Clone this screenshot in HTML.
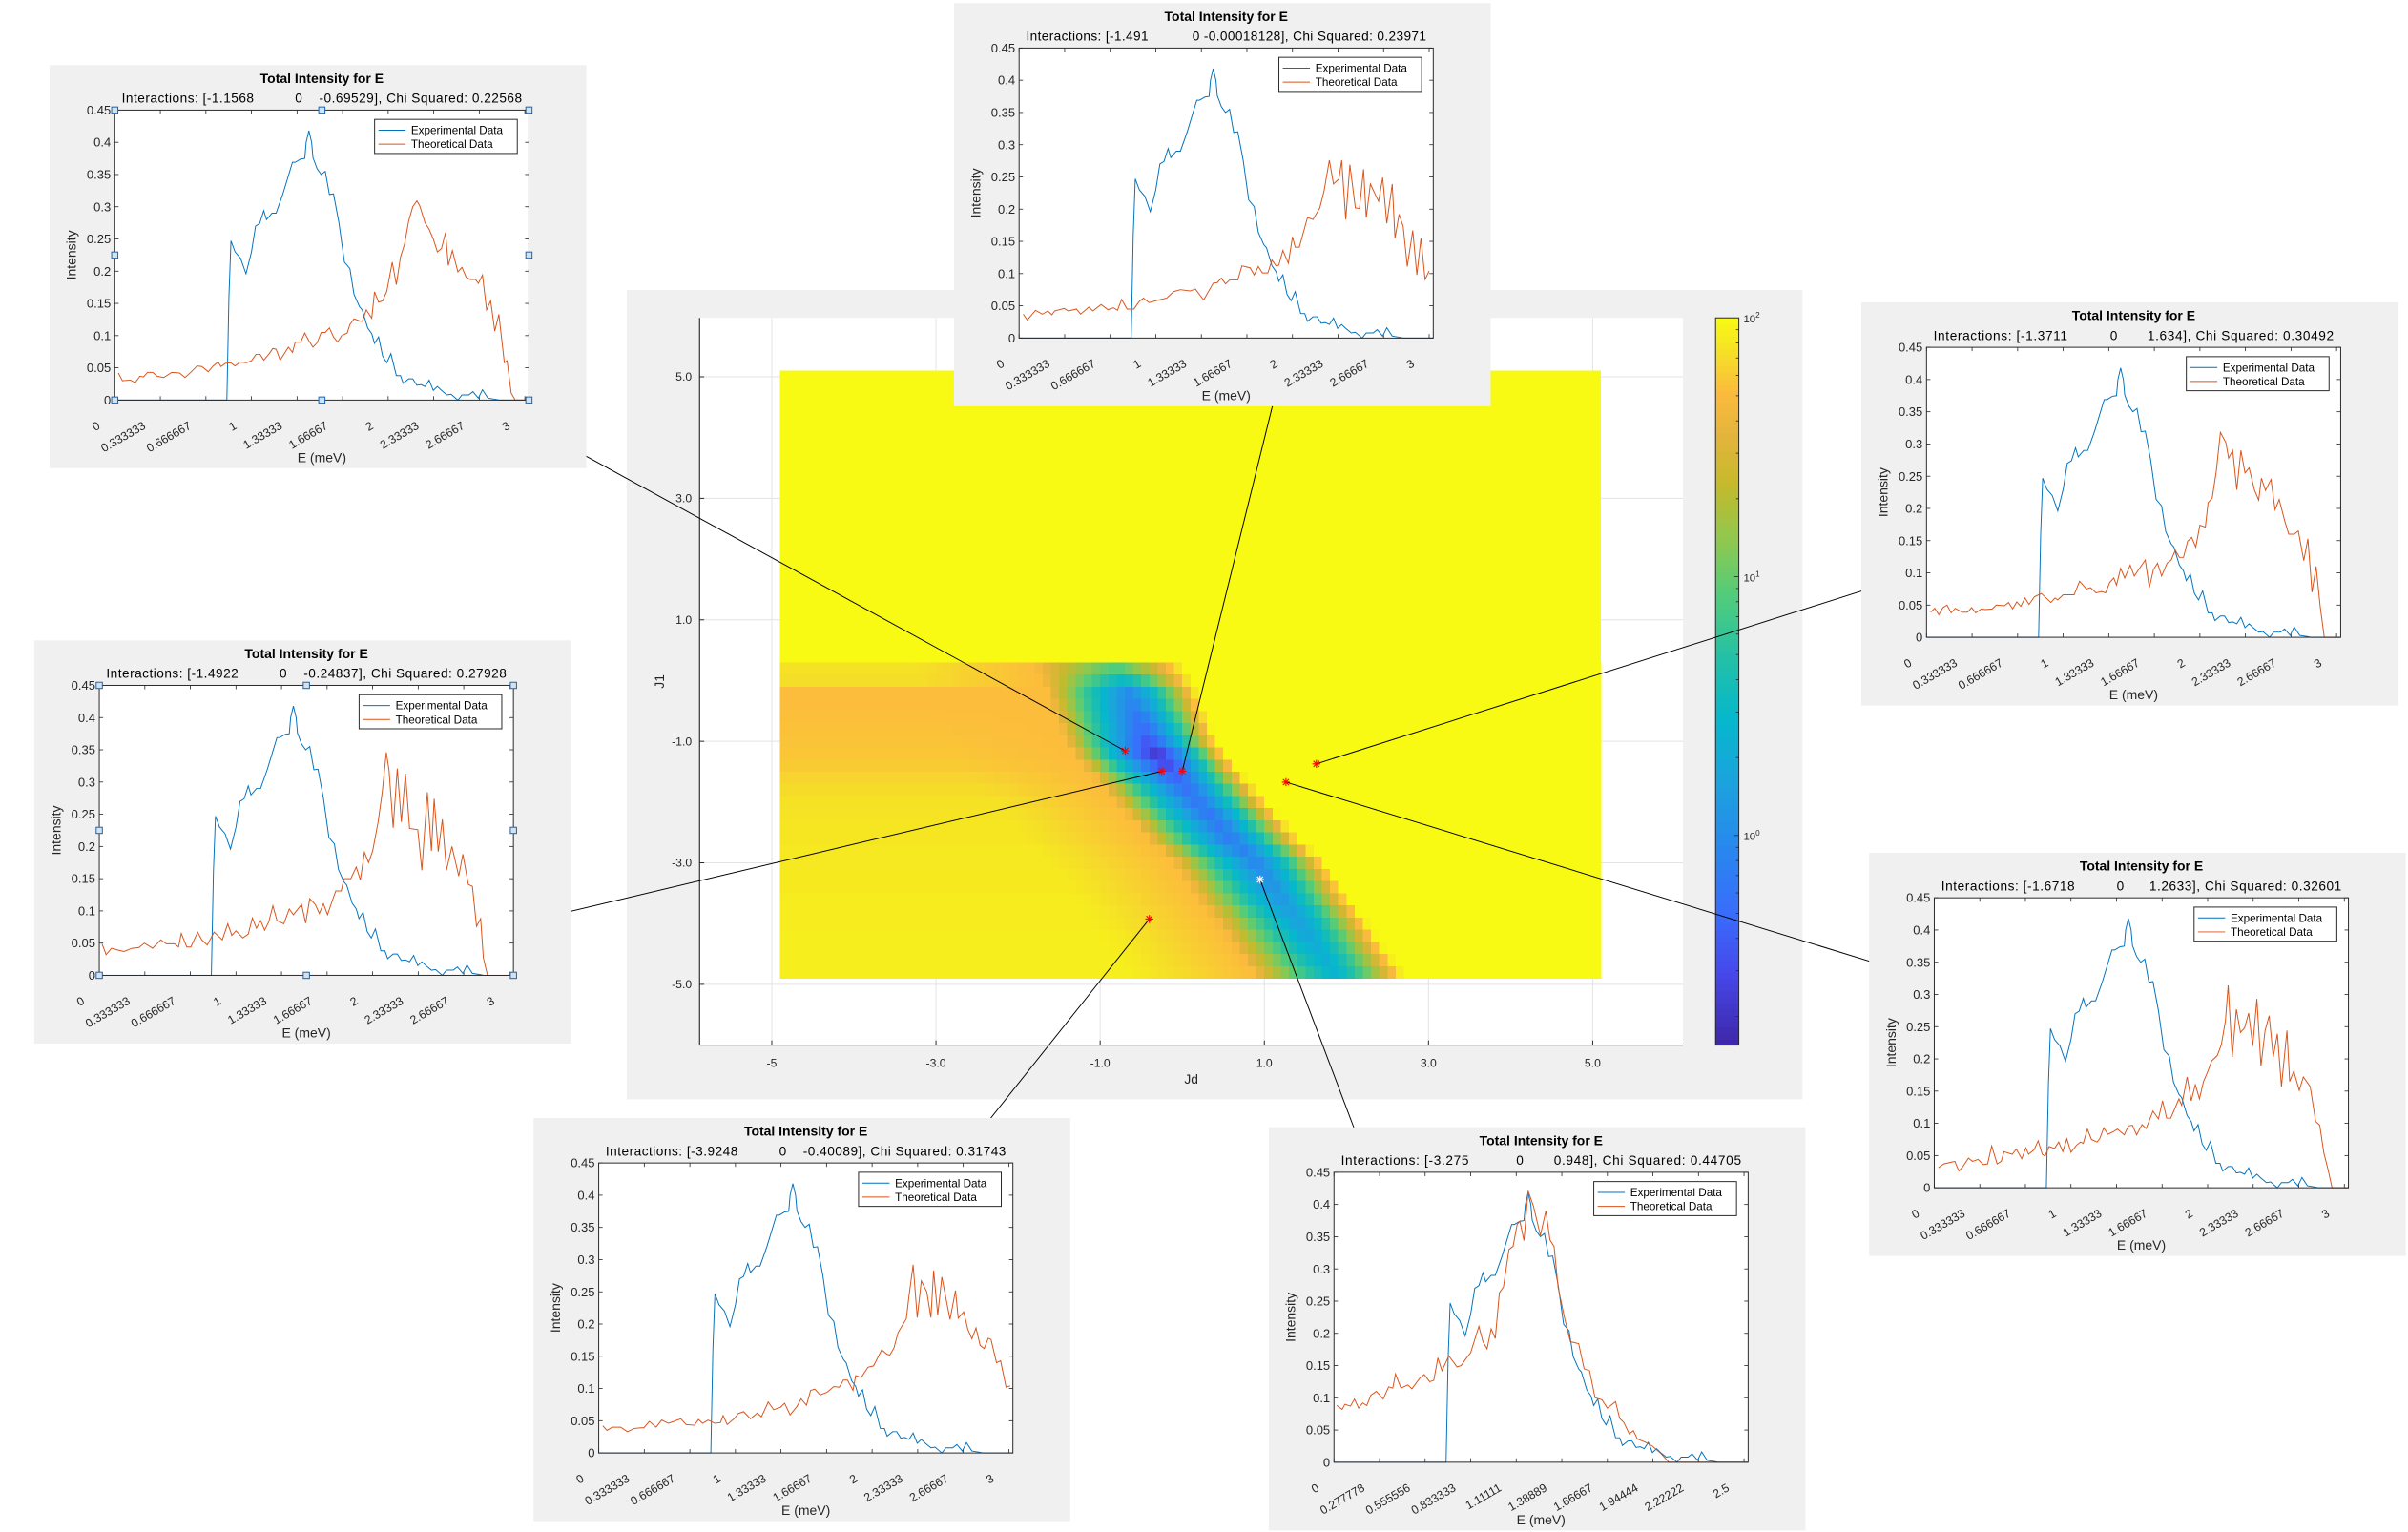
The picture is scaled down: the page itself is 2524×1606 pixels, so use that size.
<!DOCTYPE html>
<html><head><meta charset="utf-8"><title>Total Intensity fits</title>
<style>
html,body{margin:0;padding:0;background:#fff;}
svg{display:block;font-family:"Liberation Sans",Arial,sans-serif;}
text{white-space:pre;}
</style></head>
<body>
<svg id="root" xmlns="http://www.w3.org/2000/svg" width="2524" height="1606" viewBox="0 0 1552.4 988" preserveAspectRatio="none"></svg>
<script>
// ---------------- DATA ----------------
const expData = [[0,0],[0.81,0],[0.82,0],[0.835,0.16],[0.85,0.247],[0.88,0.23],[0.92,0.22],[0.96,0.196],[1.0,0.23],[1.03,0.27],[1.06,0.274],[1.09,0.294],[1.11,0.28],[1.15,0.29],[1.18,0.29],[1.23,0.32],[1.30,0.369],[1.32,0.369],[1.36,0.374],[1.39,0.375],[1.40,0.40],[1.42,0.418],[1.44,0.40],[1.45,0.376],[1.48,0.359],[1.51,0.35],[1.54,0.355],[1.57,0.319],[1.60,0.32],[1.64,0.275],[1.68,0.214],[1.72,0.204],[1.75,0.164],[1.79,0.145],[1.81,0.14],[1.85,0.112],[1.88,0.103],[1.90,0.088],[1.93,0.098],[1.96,0.068],[1.99,0.058],[2.02,0.072],[2.06,0.038],[2.09,0.038],[2.11,0.026],[2.15,0.033],[2.18,0.033],[2.21,0.023],[2.24,0.024],[2.27,0.021],[2.30,0.031],[2.33,0.015],[2.36,0.021],[2.39,0.015],[2.43,0.008],[2.46,0.009],[2.51,0],[2.54,0.008],[2.59,0.008],[2.62,0.013],[2.66,0.003],[2.69,0.016],[2.73,0.003],[2.79,0.001],[2.81,0],[3.03,0]];

const theoP1 = [[0.026,0.042],[0.056,0.03],[0.114,0.031],[0.149,0.027],[0.184,0.037],[0.21,0.036],[0.24,0.043],[0.277,0.043],[0.31,0.037],[0.358,0.035],[0.416,0.043],[0.474,0.042],[0.514,0.035],[0.556,0.043],[0.602,0.053],[0.637,0.052],[0.684,0.044],[0.72,0.053],[0.756,0.059],[0.777,0.052],[0.81,0.057],[0.847,0.058],[0.88,0.053],[0.916,0.059],[0.963,0.058],[1.0,0.061],[1.033,0.071],[1.063,0.071],[1.09,0.062],[1.126,0.071],[1.156,0.08],[1.18,0.079],[1.21,0.062],[1.24,0.072],[1.27,0.082],[1.30,0.074],[1.32,0.09],[1.36,0.09],[1.39,0.104],[1.42,0.092],[1.45,0.082],[1.48,0.089],[1.51,0.105],[1.54,0.105],[1.57,0.112],[1.60,0.098],[1.63,0.09],[1.66,0.1],[1.70,0.104],[1.72,0.117],[1.75,0.126],[1.79,0.123],[1.81,0.122],[1.84,0.14],[1.88,0.127],[1.90,0.168],[1.93,0.152],[1.96,0.154],[1.99,0.169],[2.03,0.214],[2.06,0.179],[2.09,0.222],[2.12,0.242],[2.15,0.278],[2.18,0.30],[2.21,0.309],[2.23,0.302],[2.27,0.275],[2.30,0.265],[2.33,0.25],[2.36,0.23],[2.39,0.235],[2.42,0.26],[2.44,0.209],[2.47,0.232],[2.51,0.199],[2.54,0.206],[2.57,0.191],[2.60,0.187],[2.64,0.187],[2.66,0.181],[2.69,0.194],[2.72,0.14],[2.75,0.154],[2.78,0.107],[2.81,0.133],[2.85,0.058],[2.87,0.061],[2.90,0.011],[2.93,0],[3.03,0]];

const theoP2 = [[0.03,0.037],[0.06,0.028],[0.12,0.043],[0.17,0.037],[0.21,0.042],[0.24,0.036],[0.26,0.042],[0.33,0.046],[0.36,0.042],[0.42,0.045],[0.45,0.037],[0.51,0.048],[0.54,0.042],[0.60,0.052],[0.65,0.044],[0.69,0.047],[0.72,0.043],[0.75,0.06],[0.79,0.045],[0.84,0.045],[0.88,0.057],[0.91,0.062],[0.95,0.055],[1.02,0.059],[1.08,0.062],[1.13,0.072],[1.18,0.075],[1.25,0.073],[1.29,0.076],[1.35,0.059],[1.42,0.085],[1.45,0.086],[1.48,0.093],[1.51,0.084],[1.54,0.09],[1.60,0.09],[1.63,0.112],[1.69,0.109],[1.72,0.098],[1.75,0.111],[1.78,0.101],[1.82,0.101],[1.85,0.121],[1.88,0.112],[1.90,0.113],[1.93,0.136],[1.97,0.116],[2.00,0.157],[2.02,0.141],[2.05,0.141],[2.11,0.187],[2.15,0.184],[2.20,0.202],[2.23,0.227],[2.27,0.276],[2.30,0.239],[2.34,0.247],[2.36,0.276],[2.39,0.184],[2.42,0.269],[2.46,0.202],[2.49,0.201],[2.52,0.262],[2.54,0.187],[2.57,0.239],[2.63,0.212],[2.66,0.249],[2.69,0.178],[2.73,0.239],[2.75,0.155],[2.78,0.192],[2.81,0.173],[2.84,0.111],[2.88,0.167],[2.91,0.098],[2.94,0.155],[2.97,0.091],[3.0,0.104]];

const theoP3 = [[0.03,0.039],[0.06,0.045],[0.09,0.035],[0.12,0.046],[0.15,0.05],[0.18,0.038],[0.21,0.045],[0.26,0.039],[0.30,0.039],[0.33,0.046],[0.36,0.038],[0.40,0.044],[0.43,0.043],[0.48,0.044],[0.51,0.05],[0.57,0.049],[0.60,0.054],[0.63,0.044],[0.66,0.055],[0.69,0.048],[0.72,0.061],[0.75,0.051],[0.79,0.063],[0.84,0.068],[0.91,0.054],[0.94,0.061],[0.96,0.058],[1.0,0.066],[1.08,0.066],[1.12,0.087],[1.17,0.075],[1.20,0.077],[1.24,0.069],[1.28,0.071],[1.31,0.069],[1.34,0.085],[1.37,0.092],[1.39,0.081],[1.42,0.107],[1.45,0.092],[1.49,0.112],[1.52,0.095],[1.60,0.12],[1.63,0.077],[1.66,0.105],[1.69,0.115],[1.72,0.095],[1.76,0.115],[1.79,0.12],[1.82,0.135],[1.85,0.124],[1.88,0.124],[1.91,0.149],[1.94,0.155],[1.97,0.14],[2.0,0.174],[2.04,0.171],[2.06,0.209],[2.09,0.216],[2.12,0.258],[2.15,0.318],[2.19,0.302],[2.21,0.278],[2.24,0.29],[2.27,0.229],[2.30,0.29],[2.33,0.255],[2.36,0.263],[2.40,0.228],[2.43,0.213],[2.45,0.247],[2.48,0.228],[2.52,0.245],[2.55,0.198],[2.58,0.214],[2.62,0.181],[2.65,0.16],[2.69,0.16],[2.72,0.165],[2.76,0.119],[2.79,0.153],[2.82,0.07],[2.85,0.11],[2.88,0.048],[2.91,0],[3.03,0]];

const theoP4 = [[0.02,0.049],[0.05,0.032],[0.09,0.042],[0.14,0.039],[0.18,0.037],[0.24,0.042],[0.29,0.043],[0.33,0.05],[0.39,0.042],[0.45,0.055],[0.49,0.049],[0.55,0.049],[0.58,0.044],[0.60,0.065],[0.64,0.044],[0.67,0.044],[0.72,0.067],[0.75,0.055],[0.79,0.047],[0.84,0.067],[0.90,0.055],[0.94,0.08],[0.97,0.062],[1.0,0.069],[1.05,0.058],[1.09,0.064],[1.12,0.089],[1.15,0.073],[1.18,0.085],[1.21,0.07],[1.24,0.083],[1.27,0.108],[1.30,0.085],[1.35,0.08],[1.39,0.103],[1.42,0.094],[1.48,0.11],[1.51,0.081],[1.54,0.119],[1.58,0.11],[1.61,0.096],[1.64,0.111],[1.67,0.094],[1.70,0.113],[1.73,0.131],[1.77,0.131],[1.79,0.15],[1.84,0.15],[1.88,0.168],[1.91,0.148],[1.94,0.191],[1.97,0.175],[2.0,0.193],[2.04,0.238],[2.07,0.284],[2.10,0.346],[2.12,0.318],[2.15,0.229],[2.18,0.321],[2.21,0.238],[2.24,0.313],[2.27,0.228],[2.33,0.226],[2.36,0.163],[2.40,0.284],[2.43,0.193],[2.45,0.274],[2.48,0.192],[2.51,0.242],[2.54,0.163],[2.58,0.2],[2.63,0.154],[2.66,0.188],[2.70,0.141],[2.73,0.138],[2.76,0.076],[2.79,0.088],[2.81,0.027],[2.84,0],[3.03,0]];

const theoP5 = [[0.03,0.031],[0.07,0.037],[0.13,0.04],[0.15,0.041],[0.18,0.026],[0.21,0.033],[0.25,0.046],[0.28,0.041],[0.32,0.044],[0.36,0.036],[0.39,0.037],[0.42,0.065],[0.46,0.037],[0.49,0.041],[0.51,0.056],[0.57,0.052],[0.60,0.06],[0.64,0.045],[0.67,0.062],[0.69,0.052],[0.73,0.059],[0.76,0.073],[0.79,0.052],[0.81,0.049],[0.84,0.064],[0.88,0.061],[0.91,0.071],[0.94,0.056],[0.97,0.076],[1.0,0.055],[1.04,0.066],[1.07,0.071],[1.09,0.069],[1.12,0.091],[1.15,0.075],[1.19,0.071],[1.21,0.076],[1.24,0.093],[1.27,0.083],[1.31,0.087],[1.34,0.091],[1.39,0.082],[1.42,0.096],[1.45,0.097],[1.48,0.082],[1.52,0.098],[1.55,0.092],[1.60,0.119],[1.64,0.107],[1.67,0.135],[1.70,0.108],[1.73,0.108],[1.79,0.138],[1.81,0.128],[1.85,0.172],[1.88,0.135],[1.91,0.16],[1.94,0.138],[1.97,0.165],[2.0,0.18],[2.03,0.197],[2.07,0.205],[2.10,0.222],[2.13,0.259],[2.15,0.314],[2.18,0.203],[2.21,0.277],[2.24,0.241],[2.27,0.248],[2.30,0.271],[2.33,0.22],[2.36,0.293],[2.39,0.189],[2.42,0.244],[2.45,0.267],[2.48,0.203],[2.51,0.239],[2.54,0.157],[2.58,0.244],[2.60,0.165],[2.63,0.181],[2.67,0.151],[2.70,0.172],[2.75,0.157],[2.79,0.103],[2.82,0.097],[2.85,0.054],[2.88,0.029],[2.91,0],[3.03,0]];

const theoP6 = [[0.03,0.042],[0.06,0.035],[0.10,0.04],[0.16,0.04],[0.21,0.033],[0.26,0.038],[0.31,0.039],[0.33,0.039],[0.37,0.049],[0.42,0.04],[0.46,0.051],[0.51,0.046],[0.55,0.049],[0.60,0.053],[0.64,0.044],[0.70,0.043],[0.73,0.052],[0.76,0.046],[0.80,0.051],[0.85,0.046],[0.89,0.047],[0.91,0.058],[0.94,0.044],[0.99,0.053],[1.02,0.061],[1.06,0.064],[1.11,0.053],[1.16,0.062],[1.19,0.056],[1.24,0.079],[1.28,0.067],[1.33,0.071],[1.36,0.077],[1.40,0.059],[1.45,0.072],[1.48,0.084],[1.52,0.074],[1.55,0.097],[1.58,0.099],[1.62,0.09],[1.67,0.094],[1.72,0.103],[1.76,0.102],[1.79,0.113],[1.82,0.113],[1.86,0.097],[1.88,0.12],[1.92,0.117],[1.97,0.133],[2.01,0.135],[2.03,0.143],[2.07,0.16],[2.11,0.153],[2.13,0.152],[2.16,0.163],[2.19,0.187],[2.25,0.208],[2.27,0.244],[2.30,0.292],[2.33,0.21],[2.36,0.267],[2.40,0.25],[2.43,0.21],[2.45,0.283],[2.48,0.214],[2.51,0.273],[2.55,0.229],[2.57,0.207],[2.61,0.252],[2.63,0.209],[2.67,0.219],[2.70,0.192],[2.73,0.177],[2.76,0.194],[2.79,0.167],[2.82,0.162],[2.85,0.178],[2.87,0.176],[2.91,0.14],[2.94,0.143],[2.98,0.102],[3.01,0.104]];

const theoP7 = [[0.02,0.088],[0.06,0.082],[0.08,0.09],[0.12,0.087],[0.15,0.098],[0.18,0.084],[0.21,0.092],[0.24,0.088],[0.27,0.104],[0.31,0.11],[0.36,0.098],[0.40,0.117],[0.43,0.115],[0.45,0.137],[0.49,0.115],[0.54,0.12],[0.57,0.114],[0.63,0.131],[0.66,0.136],[0.70,0.125],[0.73,0.127],[0.76,0.162],[0.79,0.142],[0.84,0.165],[0.90,0.148],[0.93,0.15],[0.97,0.162],[1.00,0.17],[1.06,0.211],[1.09,0.187],[1.12,0.176],[1.15,0.207],[1.18,0.192],[1.21,0.263],[1.24,0.272],[1.28,0.33],[1.31,0.335],[1.34,0.369],[1.36,0.374],[1.39,0.344],[1.42,0.421],[1.46,0.397],[1.51,0.352],[1.55,0.39],[1.58,0.345],[1.61,0.335],[1.64,0.271],[1.69,0.221],[1.73,0.187],[1.79,0.184],[1.83,0.145],[1.87,0.142],[1.91,0.1],[1.96,0.097],[2.00,0.084],[2.06,0.094],[2.09,0.068],[2.12,0.062],[2.16,0.044],[2.19,0.049],[2.22,0.036],[2.28,0.031],[2.33,0.025],[2.39,0.014],[2.45,0],[3.03,0]];

const yTickVals = [0,0.05,0.1,0.15,0.2,0.25,0.3,0.35,0.4,0.45];
const yTickLabels = ["0","0.05","0.1","0.15","0.2","0.25","0.3","0.35","0.4","0.45"];
const xTickVals = [0,1/3,2/3,1,4/3,5/3,2,7/3,8/3,3];
const xTickLabelsStd = ["0","0.333333","0.666667","1","1.33333","1.66667","2","2.33333","2.66667","3"];
const xTickLabelsP7 = ["0","0.277778","0.555556","0.833333","1.11111","1.38889","1.66667","1.94444","2.22222","2.5"];

// heatmap rows (J1 row centres, top edge 0.3, step 0.2)
const rowJ1 = [0.2,0.0,-0.2,-0.4,-0.6,-0.8,-1.0,-1.2,-1.4,-1.6,-1.8,-2.0,-2.2,-2.4,-2.6,-2.8,-3.0,-3.2,-3.4,-3.6,-3.8,-4.0,-4.2,-4.4,-4.6,-4.8];
const rowBandCenter = [-0.8,-0.72,-0.65,-0.6,-0.54,-0.48,-0.42,-0.32,-0.2,-0.07,0.06,0.19,0.32,0.45,0.58,0.74,0.9,1.0,1.1,1.2,1.32,1.43,1.53,1.63,1.74,1.85];
const rowBandMin = [0.9,0.5,0.0,-0.1,-0.2,-0.3,-0.45,-0.65,-0.55,-0.35,-0.25,-0.2,-0.2,-0.15,-0.15,-0.1,-0.05,0.0,0.05,0.1,0.15,0.2,0.25,0.3,0.35,0.4];
const rowLeftLevel = [1.88,1.86,1.72,1.72,1.73,1.74,1.75,1.76,1.78,1.82,1.85,1.88,1.89,1.9,1.9,1.91,1.91,1.92,1.92,1.93,1.93,1.93,1.94,1.94,1.94,1.94];

// fit points (J1, Jd) from the panel subtitles
const ptJ1 = [-1.1568,-1.491,-1.3711,-1.4922,-1.6718,-3.9248,-3.275];
const ptJd = [-0.69529,-0.00018128,1.634,-0.24837,1.2633,-0.40089,0.948];

const mainXTicks = [-5,-3,-1,1,3,5];
const mainXTickLabels = ["-5","-3.0","-1.0","1.0","3.0","5.0"];
const mainYTicks = [5,3,1,-1,-3,-5];
const mainYTickLabels = ["5.0","3.0","1.0","-1.0","-3.0","-5.0"];
const cbDecades = [2,1,0];

// ---------------- HELPERS ----------------
const NS = 'http://www.w3.org/2000/svg';
const root = document.getElementById('root');
function mk(tag, attrs, parent) {
  const e = document.createElementNS(NS, tag);
  for (const k in attrs) e.setAttribute(k, attrs[k]);
  (parent || root).appendChild(e);
  return e;
}
function txt(str, attrs, parent) {
  const t = mk('text', attrs, parent);
  t.textContent = str;
  return t;
}
const stops = [[0,[62,38,168]],[0.1,[70,72,235]],[0.18,[58,108,252]],[0.26,[42,132,240]],[0.36,[28,162,222]],[0.45,[5,184,204]],[0.53,[34,192,168]],[0.62,[82,204,122]],[0.69,[140,200,82]],[0.77,[196,186,44]],[0.84,[228,180,60]],[0.9,[252,188,60]],[0.95,[245,222,40]],[1,[248,250,20]]];
function cmap(t) {
  t = Math.max(0, Math.min(1, t));
  for (let i = 1; i < stops.length; i++) {
    if (t <= stops[i][0]) {
      const a = stops[i-1], b = stops[i];
      const f = (t - a[0]) / (b[0] - a[0]);
      const c = a[1].map((v, j) => Math.round(v + (b[1][j] - v) * f));
      return 'rgb(' + c.join(',') + ')';
    }
  }
  return 'rgb(248,250,20)';
}
const VMIN = -0.81, VMAX = 2.0;
function vToT(v) { return (v - VMIN) / (VMAX - VMIN); }

// ---------------- MAIN HEATMAP FIGURE ----------------
const mainBg = mk('rect', {x:404, y:187, width:758, height:522, fill:'#f0f0f0'});


const MX0 = 451, MX1 = 1085, MY0 = 205, MY1 = 674;
const jdMin = -5.88, jdMax = 6.1, j1Min = -6.0, j1Max = 5.97;
function sx(jd) { return MX0 + (jd - jdMin) / (jdMax - jdMin) * (MX1 - MX0); }
function sy(j1) { return MY1 - (j1 - j1Min) / (j1Max - j1Min) * (MY1 - MY0); }
const mainAx = mk('rect', {x:MX0, y:MY0, width:MX1-MX0, height:MY1-MY0, fill:'#fff'});


const gridG = mk('g', {stroke:'#e3e3e3', 'stroke-width':0.6});


mainXTicks.forEach(v => { const l = mk('line', {x1:sx(v), x2:sx(v), y1:MY0, y2:MY1}, gridG);   });
mainYTicks.forEach(v => { const l = mk('line', {y1:sy(v), y2:sy(v), x1:MX0, x2:MX1}, gridG);   });

const heat = mk('g', {'shape-rendering':'crispEdges'});


const topRegion = mk('rect', {x:sx(-4.9), y:sy(5.1), width:sx(5.1)-sx(-4.9), height:sy(0.3)-sy(5.1)+0.5, fill:cmap(1)}, heat);


const colStep = 0.1;
for (let r = 0; r < rowJ1.length; r++) {
  const c = rowBandCenter[r], mn = rowBandMin[r], lf = rowLeftLevel[r];
  const yTop = sy(rowJ1[r] + 0.1), yBot = sy(rowJ1[r] - 0.1);
  for (let k = 0; k < 100; k++) {
    const jd0 = -4.9 + k * colStep, jd = jd0 + colStep / 2;
    const d = jd - c;
    let v;
    if (d >= 0) {
      const f = Math.min(1, d / 0.85);
      v = mn + (2.05 - mn) * Math.pow(f, 1.3);
    } else {
      const u = -d;
      if (u < 1.0) v = mn + (1.72 - mn) * Math.pow(u / 1.0, 1.2);
      else v = 1.72 + (lf - 1.72) * Math.min(1, (u - 1.0) / 1.5);
    }
    const cell = mk('rect', {x:sx(jd0), y:yTop, width:sx(jd0+colStep)-sx(jd0)+0.3, height:yBot-yTop+0.3, fill:cmap(vToT(v))}, heat);
    
    
  }
}
// main axes lines
const mAxisX = mk('line', {x1:MX0, x2:MX1, y1:MY1, y2:MY1, stroke:'#262626', 'stroke-width':0.7});


const mAxisY = mk('line', {x1:MX0, x2:MX0, y1:MY0, y2:MY1, stroke:'#262626', 'stroke-width':0.7});


mainXTicks.forEach((v, i) => {
  const tk = mk('line', {x1:sx(v), x2:sx(v), y1:MY1, y2:MY1-3, stroke:'#262626', 'stroke-width':0.6});
  
  
  const t = txt(mainXTickLabels[i], {x:sx(v), y:MY1+14, 'font-size':7.5, fill:'#262626', 'text-anchor':'middle'});
  
  
});
mainYTicks.forEach((v, i) => {
  const tk = mk('line', {x1:MX0, x2:MX0+3, y1:sy(v), y2:sy(v), stroke:'#262626', 'stroke-width':0.6});
  
  
  const t = txt(mainYTickLabels[i], {x:MX0-5, y:sy(v)+2.6, 'font-size':7.5, fill:'#262626', 'text-anchor':'end'});
  
  
});
const jdLabel = txt('Jd', {x:(MX0+MX1)/2, y:MY1+25, 'font-size':8.5, fill:'#262626', 'text-anchor':'middle'});


const j1Label = txt('J1', {x:0, y:0, 'font-size':8.5, fill:'#262626', 'text-anchor':'middle', transform:'translate(428,'+((MY0+MY1)/2)+') rotate(-90)'});



// colorbar
const CBX = 1106, CBW = 15, CBY0 = 205, CBY1 = 674;
function cy(dec) { return CBY1 - (dec - VMIN) / (VMAX - VMIN) * (CBY1 - CBY0); }
const cbG = mk('g', {'shape-rendering':'crispEdges'});


for (let i = 0; i < 120; i++) {
  const t0 = i / 120, t1 = (i + 1) / 120;
  const s = mk('rect', {x:CBX, y:CBY1-(CBY1-CBY0)*t1, width:CBW, height:(CBY1-CBY0)/120+0.4, fill:cmap((t0+t1)/2)}, cbG);
  
  
}
const cbBox = mk('rect', {x:CBX, y:CBY0, width:CBW, height:CBY1-CBY0, fill:'none', stroke:'#262626', 'stroke-width':0.6});


for (let dec = -1; dec <= 1; dec++) {
  for (let m = 1; m <= 9; m++) {
    const lv = dec + Math.log10(m);
    if (lv < VMIN || lv > VMAX) continue;
    const len = m === 1 ? 3 : 1.8;
    const tk = mk('line', {x1:CBX+CBW, x2:CBX+CBW-len, y1:cy(lv), y2:cy(lv), stroke:'#262626', 'stroke-width':0.5});
    
    
  }
}
cbDecades.forEach(dec => {
  const t = mk('text', {x:CBX+CBW+3, y:cy(dec)+3, 'font-size':7, fill:'#262626'});
  
  
  t.textContent = '10';
  const sup = mk('tspan', {dy:-3, 'font-size':5}, t);
  sup.textContent = String(dec);
});

// ---------------- CONNECTOR LINES + POINTS ----------------
const connEnds = [[350,279],[822,255],[1210,378],[354,591],[1212,622],[634,727],[875,733]];
const conG = mk('g', {stroke:'#000', 'stroke-width':0.6});


ptJ1.forEach((j1, i) => {
  const l = mk('line', {x1:connEnds[i][0], y1:connEnds[i][1], x2:sx(ptJd[i]), y2:sy(j1)}, conG);
  
  
});
ptJ1.forEach((j1, i) => {
  const px = sx(ptJd[i]), py = sy(j1);
  const col = i === 6 ? '#ffffff' : '#ff0000';
  const g = mk('g', {stroke:col, 'stroke-width':0.7});
  
  
  mk('line', {x1:px-2.6, x2:px+2.6, y1:py, y2:py}, g);
  mk('line', {x1:px, x2:px, y1:py-2.6, y2:py+2.6}, g);
  mk('line', {x1:px-1.9, x2:px+1.9, y1:py-1.9, y2:py+1.9}, g);
  mk('line', {x1:px-1.9, x2:px+1.9, y1:py+1.9, y2:py-1.9}, g);
});

// ---------------- SUBPLOT PANELS ----------------
const PW = 267, PH = 187, XMAX = 3.03, YMAX = 0.45;
function drawPanel(name, ax, ay, theo, subtitle, xLabels, handles) {
  const g = mk('g', {});
  
  
  const bg = mk('rect', {x:ax-42, y:Math.max(0, ay-29), width:346, height:260 - Math.max(0, 29-ay), fill:'#f0f0f0'}, g);
  
  
  const fx = e => ax + e / XMAX * PW;
  const fy = v => ay + PH - v / YMAX * PH;
  const plot = mk('rect', {x:ax, y:ay, width:PW, height:PH, fill:'#fff'}, g);
  
  
  // ticks
  yTickVals.forEach((v, i) => {
    const y = fy(v);
    const t1 = mk('line', {x1:ax, x2:ax+2.5, y1:y, y2:y, stroke:'#262626', 'stroke-width':0.5}, g);
    
    
    const t2 = mk('line', {x1:ax+PW, x2:ax+PW-2.5, y1:y, y2:y, stroke:'#262626', 'stroke-width':0.5}, g);
    
    
    const lb = txt(yTickLabels[i], {x:ax-2.5, y:y+2.8, 'font-size':8, fill:'#262626', 'text-anchor':'end'}, g);
    
    
  });
  xTickVals.forEach((v, i) => {
    const x = fx(v);
    const t1 = mk('line', {x1:x, x2:x, y1:ay+PH, y2:ay+PH-2.5, stroke:'#262626', 'stroke-width':0.5}, g);
    
    
    const t2 = mk('line', {x1:x, x2:x, y1:ay, y2:ay+2.5, stroke:'#262626', 'stroke-width':0.5}, g);
    
    
    const lx = x - 9, ly = ay + PH + 18;
    const lb = txt(xLabels[i], {x:0, y:0, 'font-size':7.6, fill:'#262626', 'text-anchor':'end', transform:'translate('+lx+','+ly+') rotate(-30)'}, g);
    
    
  });
  // series
  const ePath = mk('polyline', {points: expData.map(p => fx(p[0]).toFixed(2)+','+fy(p[1]).toFixed(2)).join(' '), fill:'none', stroke:'#0072BD', 'stroke-width':0.6}, g);
  
  
  const tPath = mk('polyline', {points: theo.map(p => fx(p[0]).toFixed(2)+','+fy(p[1]).toFixed(2)).join(' '), fill:'none', stroke:'#D95319', 'stroke-width':0.6}, g);
  
  
  const frame = mk('rect', {x:ax, y:ay, width:PW, height:PH, fill:'none', stroke:'#262626', 'stroke-width':0.6}, g);
  
  
  // legend
  const lx = ax + PW - 99.5, ly = ay + 6;
  const lg = mk('g', {}, g);
  
  
  mk('rect', {x:lx, y:ly, width:92, height:22, fill:'#fff', stroke:'#262626', 'stroke-width':0.6}, lg);
  const l1 = mk('line', {x1:lx+2.5, x2:lx+20, y1:ly+7, y2:ly+7, stroke:'#0072BD', 'stroke-width':0.6}, lg);
  
  
  const tx1 = txt('Experimental Data', {x:lx+23.5, y:ly+9.5, 'font-size':7.2, fill:'#000'}, lg);
  
  
  const l2 = mk('line', {x1:lx+2.5, x2:lx+20, y1:ly+16, y2:ly+16, stroke:'#D95319', 'stroke-width':0.6}, lg);
  
  
  const tx2 = txt('Theoretical Data', {x:lx+23.5, y:ly+18.5, 'font-size':7.2, fill:'#000'}, lg);
  
  
  // titles
  const ttl = txt('Total Intensity for E', {x:ax+PW/2, y:ay-17.5, 'font-size':8.6, 'font-weight':'bold', fill:'#000', 'text-anchor':'middle'}, g);
  
  
  const sub = txt(subtitle, {x:ax+PW/2, y:ay-4.8, 'font-size':8.4, fill:'#000', 'text-anchor':'middle', textLength:258, lengthAdjust:'spacing'}, g);
  
  
  const xl = txt('E (meV)', {x:ax+PW/2, y:ay+PH+40, 'font-size':8.6, fill:'#262626', 'text-anchor':'middle'}, g);
  
  
  const yl = txt('Intensity', {x:0, y:0, 'font-size':8.6, fill:'#262626', 'text-anchor':'middle', transform:'translate('+(ax-25)+','+(ay+PH/2)+') rotate(-90)'}, g);
  
  
  if (handles) {
    const hp = [[0,0],[0.5,0],[1,0],[0,0.5],[1,0.5],[0,1],[0.5,1],[1,1]];
    hp.forEach(h => {
      const r = mk('rect', {x:ax+h[0]*PW-2, y:ay+h[1]*PH-2, width:4, height:4, fill:'#cfe3f5', stroke:'#1f5fa0', 'stroke-width':0.6}, g);
      
      
    });
  }
}
drawPanel('panel-point-1', 74, 71, theoP1, 'Interactions: [-1.1568          0    -0.69529], Chi Squared: 0.22568', xTickLabelsStd, true);
drawPanel('panel-point-2', 657, 31, theoP2, 'Interactions: [-1.491           0 -0.00018128], Chi Squared: 0.23971', xTickLabelsStd, false);
drawPanel('panel-point-3', 1242, 224, theoP3, 'Interactions: [-1.3711          0       1.634], Chi Squared: 0.30492', xTickLabelsStd, false);
drawPanel('panel-point-4', 64, 442, theoP4, 'Interactions: [-1.4922          0    -0.24837], Chi Squared: 0.27928', xTickLabelsStd, true);
drawPanel('panel-point-5', 1247, 579, theoP5, 'Interactions: [-1.6718          0      1.2633], Chi Squared: 0.32601', xTickLabelsStd, false);
drawPanel('panel-point-6', 386, 750, theoP6, 'Interactions: [-3.9248          0    -0.40089], Chi Squared: 0.31743', xTickLabelsStd, false);
drawPanel('panel-point-7', 860, 756, theoP7, 'Interactions: [-3.275           0       0.948], Chi Squared: 0.44705', xTickLabelsP7, false);
</script>
</body></html>
